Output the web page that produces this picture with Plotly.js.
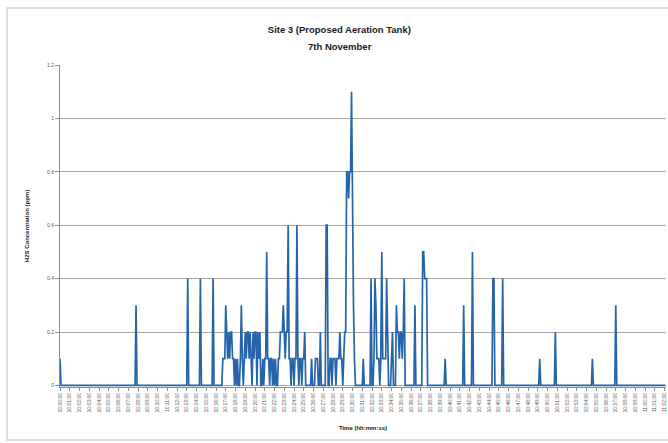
<!DOCTYPE html>
<html>
<head>
<meta charset="utf-8">
<script src="https://cdn.plot.ly/plotly-3.0.1.min.js"></script>
<style>
  html, body { margin: 0; padding: 0; background: #ffffff; }
  #chart { width: 668px; height: 443px; }
</style>
</head>
<body>
<div id="chart"></div>
<script>
// Logger readings, 7th November, Site 3 (one reading every 6 s; zero runs between listed readings)
const chartTitle = 'Site 3 (Proposed Aeration Tank)';
const chartSubtitle = '7th November';
const yAxisTitle = 'H2S Concentration (ppm)';
const xAxisTitle = 'Time (hh:mm:ss)';
const logDate = '2012-11-07';
const startTime = '10:00:00';
const sampleIntervalSec = 6;
const lastSampleNo = 621.5;

const sampleNo = [
  0, 1, 77, 78, 79, 130, 131, 132, 143, 144, 145, 156, 157, 158,
  166, 167, 168, 169, 170, 171, 172, 173, 174, 175, 176, 177, 178, 179,
  180, 181, 182, 183, 184, 185, 186, 187, 188, 189, 190, 191, 192, 193,
  194, 195, 196, 197, 198, 199, 200, 201, 202, 203, 204, 205, 206, 207,
  208, 209, 210, 211, 212, 213, 214, 215, 216, 217, 218, 219, 220, 221,
  222, 223, 224, 225, 226, 227, 228, 229, 230, 231, 232, 233, 234, 235,
  236, 237, 238, 239, 240, 241, 242, 243, 244, 245, 246, 247, 248, 249,
  250, 251, 252, 257, 258, 259, 261, 262, 263, 264, 265, 266, 267, 268,
  272, 273, 274, 275, 276, 277, 278, 279, 280, 281, 282, 283, 284, 285,
  286, 287, 288, 289, 290, 291, 292, 293, 294, 295, 296, 297, 298, 299,
  300, 301, 302, 303, 310, 311, 312, 318, 319, 320, 321, 322, 323, 324,
  325, 326, 327, 328, 329, 330, 331, 332, 333, 334, 335, 336, 337, 339,
  340, 341, 342, 344, 345, 346, 347, 348, 349, 350, 351, 352, 353, 354,
  363, 364, 365, 371, 372, 373, 374, 375, 376, 377, 394, 395, 396, 413,
  414, 415, 422, 423, 424, 443, 444, 445, 446, 453, 454, 455, 491, 492,
  493, 507, 508, 509, 545, 546, 547, 569, 570, 571, 621
];
const h2sPpm = [
  0.1, 0, 0, 0.3, 0, 0, 0.4, 0, 0, 0.4, 0, 0, 0.4, 0,
  0, 0.1, 0.1, 0.1, 0.3, 0.2, 0.1, 0.2, 0.1, 0.2, 0.2, 0.1, 0.1, 0,
  0.1, 0, 0.1, 0, 0, 0.1, 0.3, 0.1, 0, 0.1, 0.2, 0.1, 0.2, 0.2,
  0.1, 0.2, 0.1, 0, 0.2, 0.1, 0.2, 0.2, 0, 0.2, 0.1, 0.2, 0, 0,
  0.1, 0, 0.1, 0.1, 0.5, 0.1, 0.1, 0, 0.1, 0.1, 0, 0.1, 0, 0.1,
  0, 0, 0.1, 0.1, 0.2, 0.2, 0.2, 0.3, 0.2, 0.1, 0.2, 0.2, 0.6, 0.1,
  0.1, 0, 0.1, 0.1, 0, 0.1, 0.1, 0.6, 0.1, 0, 0.1, 0.1, 0, 0.1,
  0.1, 0.2, 0, 0, 0.1, 0, 0, 0.1, 0.1, 0.1, 0, 0, 0.2, 0,
  0, 0.6, 0.6, 0, 0, 0.1, 0.1, 0, 0.1, 0.1, 0.1, 0, 0.1, 0.1,
  0.1, 0.2, 0.1, 0.1, 0, 0.1, 0.2, 0.2, 0.8, 0.8, 0.7, 0.8, 0.8, 1.1,
  0.6, 0.3, 0.1, 0, 0, 0.1, 0, 0, 0.4, 0, 0, 0.1, 0.4, 0.3,
  0.1, 0.1, 0.1, 0, 0.1, 0.5, 0.1, 0.1, 0.1, 0.1, 0.4, 0.1, 0, 0,
  0.1, 0.2, 0, 0, 0.3, 0.2, 0.2, 0.1, 0.2, 0.2, 0.1, 0.2, 0.4, 0,
  0, 0.3, 0, 0, 0.5, 0.5, 0.4, 0.4, 0.4, 0, 0, 0.1, 0, 0,
  0.3, 0, 0, 0.5, 0, 0, 0.4, 0.4, 0, 0, 0.4, 0, 0, 0.1,
  0, 0, 0.2, 0, 0, 0.1, 0, 0, 0.3, 0, 0
];

function pad(n) { return String(n).padStart(2, '0'); }
function startSeconds() {
  const p = startTime.split(':').map(Number);
  return p[0] * 3600 + p[1] * 60 + p[2];
}
function stamp(sec) {
  const whole = Math.floor(sec);
  const h = Math.floor(whole / 3600), m = Math.floor((whole % 3600) / 60), s = whole % 60;
  return logDate + ' ' + pad(h) + ':' + pad(m) + ':' + pad(s);
}
const t0 = startSeconds();
const xTimes = sampleNo.map(n => stamp(t0 + n * sampleIntervalSec));
const xEnd = stamp(t0 + lastSampleNo * sampleIntervalSec);

const trace = {
  type: 'scatter',
  mode: 'lines',
  x: xTimes,
  y: h2sPpm,
  line: { color: '#2564a8', width: 1.7 },
  hoverinfo: 'x+y'
};

const plotL = 60, plotR = 666, plotT = 65, plotB = 387, W = 668, H = 443;
const pw = plotR - plotL, ph = plotB - plotT;
const titleFont = { family: 'Liberation Sans, Arial, sans-serif', size: 9.5, color: '#1a1a1a', weight: 'bold' };

const layout = {
  width: W, height: H,
  margin: { l: plotL, r: W - plotR, t: plotT, b: H - plotB, pad: 0 },
  paper_bgcolor: '#ffffff',
  plot_bgcolor: '#ffffff',
  showlegend: false,
  font: { family: 'Liberation Sans, Arial, sans-serif', color: '#404040' },
  title: {
    text: chartTitle,
    font: titleFont,
    x: 0.508, xanchor: 'center',
    y: 1 - 30 / H, yanchor: 'middle', yref: 'container'
  },
  annotations: [{
    text: chartSubtitle, font: titleFont, showarrow: false,
    xref: 'paper', yref: 'paper',
    x: (340 - plotL) / pw, xanchor: 'center',
    y: (plotB - 46) / ph, yanchor: 'middle'
  }],
  xaxis: {
    type: 'date',
    range: [stamp(t0), xEnd],
    tick0: stamp(t0),
    dtick: 60000,
    tickformat: '%H:%M:%S',
    tickangle: -90,
    tickfont: { size: 5, color: '#595959' },
    ticks: 'outside', ticklen: 3, tickcolor: '#8c8c8c',
    showgrid: false,
    showline: true, linecolor: '#8c8c8c', linewidth: 1,
    layer: 'below traces',
    zeroline: false,
    title: { text: xAxisTitle, font: { size: 6, color: '#1a1a1a', weight: 'bold' }, standoff: 14 },
    automargin: false
  },
  yaxis: {
    range: [-0.006, 1.2],
    tickvals: [0, 0.2, 0.4, 0.6, 0.8, 1, 1.2],
    ticktext: ['0', '0.2', '0.4', '0.6', '0.8', '1', '1.2'],
    tickfont: { size: 5, color: '#595959' },
    ticks: 'outside', ticklen: 4, tickcolor: '#8c8c8c',
    showgrid: true, gridcolor: '#a8a8a8', gridwidth: 1,
    showline: true, linecolor: '#8c8c8c', linewidth: 1,
    zeroline: false,
    layer: 'below traces',
    title: { text: yAxisTitle, font: { size: 6, color: '#1a1a1a', weight: 'bold' }, standoff: 16 },
    automargin: false
  },
  shapes: [{
    type: 'rect', xref: 'paper', yref: 'paper', layer: 'below',
    x0: (7 - plotL) / pw, x1: (W + 10 - plotL) / pw,
    y0: (plotB - 440) / ph, y1: (plotB - 8) / ph,
    line: { color: '#d4d4d4', width: 1.5 }
  }]
};

Plotly.newPlot('chart', [trace], layout, { staticPlot: true, displayModeBar: false });
</script>
</body>
</html>
